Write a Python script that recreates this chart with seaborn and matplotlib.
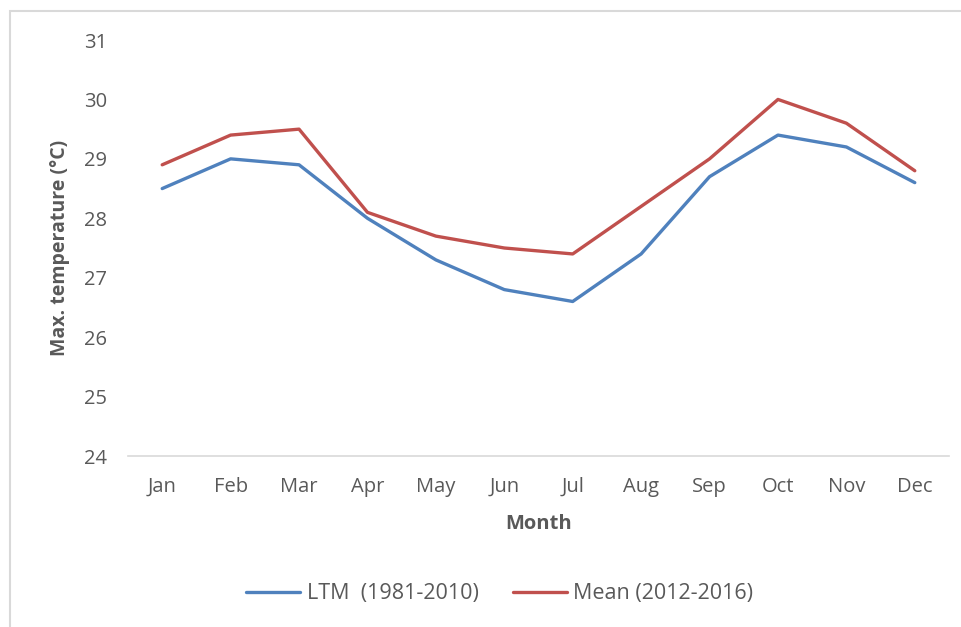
import pandas as pd
import seaborn as sns
import matplotlib.pyplot as plt
from matplotlib.patches import Rectangle
from matplotlib.lines import Line2D

# data
months = ["Jan", "Feb", "Mar", "Apr", "May", "Jun", "Jul", "Aug", "Sep", "Oct", "Nov", "Dec"]
ltm = [28.5, 29.0, 28.9, 28.0, 27.3, 26.8, 26.6, 27.4, 28.7, 29.4, 29.2, 28.6]
mean_recent = [28.9, 29.4, 29.5, 28.1, 27.7, 27.5, 27.4, 28.2, 29.0, 30.0, 29.6, 28.8]
series_names = ["LTM  (1981-2010)", "Mean (2012-2016)"]
colors = ["#4F81BD", "#C0504D"]

df = pd.DataFrame({
    "Month": months * 2,
    "Temp": ltm + mean_recent,
    "Series": [series_names[0]] * len(months) + [series_names[1]] * len(months),
})
df["x"] = list(range(len(months))) * 2

sns.set_style("white")
plt.rcParams["font.family"] = ["Open Sans", "DejaVu Sans"]
txt = "#595959"

fig = plt.figure(figsize=(9.61, 6.27), dpi=100)
ax = fig.add_axes([128 / 961, 1 - 456 / 627, (949 - 128) / 961, (456 - 40) / 627])

sns.lineplot(data=df, x="x", y="Temp", hue="Series", palette=colors,
             linewidth=2.4, ax=ax, legend=False)

ax.set_xlim(-0.5, len(months) - 0.5)
ax.set_ylim(24, 31)
ax.set_xticks(range(len(months)))
ax.set_xticklabels(months)
ax.set_yticks(range(24, 32))

for s in ["top", "right", "left"]:
    ax.spines[s].set_visible(False)
ax.spines["bottom"].set_color("#D9D9D9")
ax.spines["bottom"].set_linewidth(1.2)
ax.tick_params(axis="both", length=0, labelsize=14.5, colors=txt)
ax.tick_params(axis="x", pad=15)
ax.tick_params(axis="y", pad=15)

ax.set_xlabel("Month", fontsize=14.5, fontweight="bold", color=txt)
ax.set_ylabel("Max. temperature (°C)", fontsize=14, fontweight="bold", color=txt)
ax.xaxis.set_label_coords(0.5, -0.139)
ax.yaxis.set_label_coords(-0.0706, 0.5)

handles = [Line2D([0], [0], color=c, lw=2.4) for c in colors]
fig.legend(handles, series_names, loc="center", bbox_to_anchor=(0.52, 1 - 594 / 627),
           ncol=2, frameon=False, fontsize=15.5, handlelength=2.5, handletextpad=0.3,
           columnspacing=1.6, labelcolor=txt)

# outer chart border (only top and left visible in the crop)
fig.patches.append(Rectangle((10 / 961, -0.2), 1.2, 0.2 + 1 - 11 / 627,
                             transform=fig.transFigure, fill=False,
                             edgecolor="#D9D9D9", linewidth=1.5))

fig.savefig("out.png", dpi=100)
